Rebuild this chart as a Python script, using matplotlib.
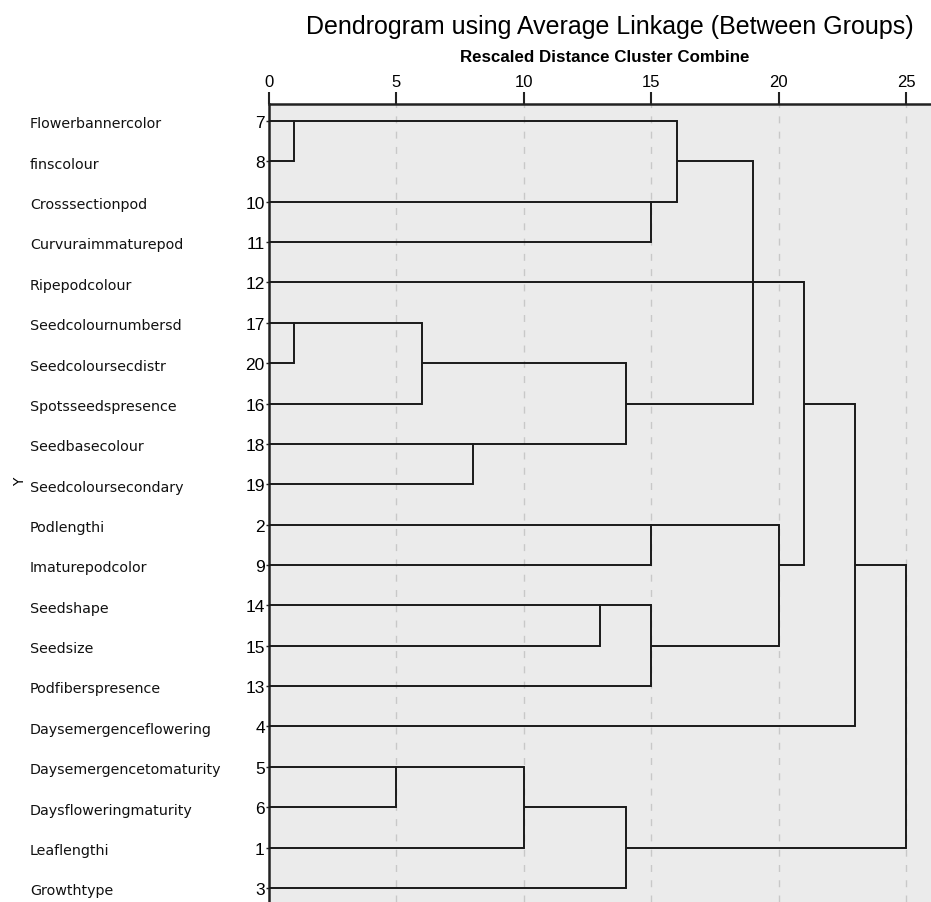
import matplotlib
matplotlib.use("Agg")
import matplotlib.pyplot as plt
import matplotlib.transforms as mtransforms

# Variable names and case numbers, top to bottom
names = ["Flowerbannercolor", "finscolour", "Crosssectionpod", "Curvuraimmaturepod",
         "Ripepodcolour", "Seedcolournumbersd", "Seedcoloursecdistr", "Spotsseedspresence",
         "Seedbasecolour", "Seedcoloursecondary", "Podlengthi", "Imaturepodcolor",
         "Seedshape", "Seedsize", "Podfiberspresence", "Daysemergenceflowering",
         "Daysemergencetomaturity", "Daysfloweringmaturity", "Leaflengthi", "Growthtype"]
case_numbers = [7, 8, 10, 11, 12, 17, 20, 16, 18, 19, 2, 9, 14, 15, 13, 4, 5, 6, 1, 3]

# Merge steps: leaves are 0..19, each merge creates cluster 20, 21, ...
merge_children = [[0, 1], [2, 3], [20, 21], [5, 6], [23, 7], [8, 9], [24, 25],
                  [22, 26], [12, 13], [28, 14], [10, 11], [30, 29], [4, 27, 31],
                  [32, 15], [16, 17], [34, 18], [35, 19], [33, 36]]
merge_heights = [1, 15, 16, 1, 6, 8, 14, 19, 13, 15, 15, 20, 21, 23, 5, 10, 14, 25]

ticks = [0, 5, 10, 15, 20, 25]

narrow = "Liberation Sans"

fig = plt.figure(figsize=(9.31, 9.03), dpi=100)
ax = fig.add_axes([269 / 931, 0, 1 - 269 / 931, 1 - 105 / 903])
ax.set_facecolor("#ebebeb")

# grid
for t in ticks[1:]:
    ax.axvline(t, color="#c8c8c8", lw=1, ls=(0, (5, 6)), zorder=1)

# dendrogram
n = len(names)
pos = list(range(n))
height = [0] * n
for children, h in zip(merge_children, merge_heights):
    cp = [pos[c] for c in children]
    for c in children:
        ax.plot([height[c], h], [pos[c], pos[c]], color="#1a1a1a", lw=1.4,
                solid_capstyle="butt", zorder=3)
    ax.plot([h, h], [min(cp), max(cp)], color="#1a1a1a", lw=1.4,
            solid_capstyle="projecting", zorder=3)
    pos.append((min(cp) + max(cp)) // 2)
    height.append(h)

ax.set_xlim(0, 25.98)
ax.set_ylim(n - 1 + 0.35, -0.42)

ax.xaxis.tick_top()
ax.set_xticks(ticks)
ax.set_xticklabels([str(t) for t in ticks], family=narrow, fontsize=12)
ax.tick_params(axis="x", length=9, width=1.5, pad=2, color="#222222")

ax.set_yticks(range(n))
ax.set_yticklabels([str(c) for c in case_numbers], family=narrow, fontsize=12.5)
ax.tick_params(axis="y", length=2, width=1, pad=1, color="#222222")

for side in ["right", "bottom"]:
    ax.spines[side].set_visible(False)
for side in ["top", "left"]:
    ax.spines[side].set_linewidth(1.8)
    ax.spines[side].set_color("#222222")

trans = mtransforms.blended_transform_factory(fig.transFigure, ax.transData)
for i, name in enumerate(names):
    ax.text(30 / 931, i + 0.06, name, transform=trans, ha="left", va="center",
            fontsize=10.3, color="#111111", family="DejaVu Sans")

fig.text(20 / 931, 1 - 482 / 903, "Y", rotation=90, ha="center", va="center",
         fontsize=10, family="DejaVu Sans")

fig.text(610 / 931, 1 - 27 / 903, "Dendrogram using Average Linkage (Between Groups)",
         ha="center", va="center", fontsize=18, family=narrow)
fig.text(605 / 931, 1 - 58 / 903, "Rescaled Distance Cluster Combine",
         ha="center", va="center", fontsize=12.2, fontweight="bold", family=narrow)

fig.savefig("out.png", dpi=100)
